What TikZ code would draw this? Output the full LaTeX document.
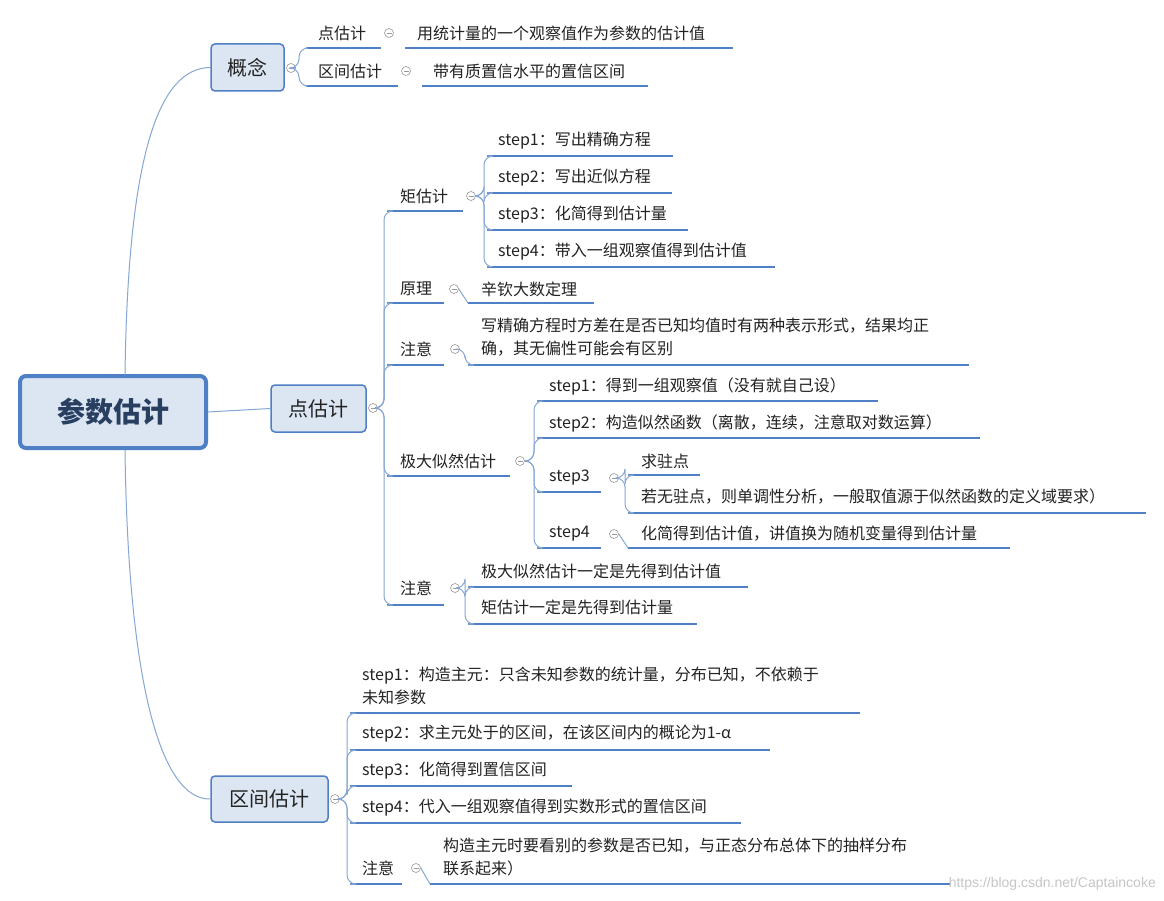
\documentclass[tikz,border=0pt]{standalone}
\usepackage{fontspec}
\setmainfont{Noto Sans CJK SC}
\newfontfamily\wm{Liberation Sans}
\definecolor{ul}{HTML}{4F7FC4}
\definecolor{cn}{HTML}{86A7D3}
\definecolor{bx}{HTML}{DCE6F2}
\definecolor{tx}{HTML}{222222}
\begin{document}
\begin{tikzpicture}[x=1pt,y=-1pt,
  conn/.style={draw=cn,line width=1pt,rounded corners=9},
  uline/.style={draw=ul,line width=2.6pt},
  tt/.style={anchor=west,inner sep=0pt,text=tx,font=\fontsize{16}{23}\selectfont,align=left},
  mbox/.style={draw=ul,fill=bx,rounded corners=4pt,line width=1.5pt,inner sep=0pt,text=tx,font=\fontsize{20}{24}\selectfont},
  circ/.style={circle,draw=gray!80,line width=0.6pt,minimum size=9pt,inner sep=0pt,path picture={\draw[gray!80,line width=0.6pt] ([xshift=-2.5pt]path picture bounding box.center)--([xshift=2.5pt]path picture bounding box.center);}}]
\useasboundingbox (0,0) rectangle (1164,901);
\fill[white] (0,0) rectangle (1164,901);
\newcommand\topic[7]{\node[tt] (#1) at (#2,#3) {#7};\draw[uline] (#4,#6)--(#5,#6);\coordinate (#1u) at (#4,#6);}
% root
\node[draw=ul,fill=bx,line width=4pt,rounded corners=6pt,minimum width=186pt,minimum height=72pt,text=ul!50!black,font=\fontsize{28}{32}\selectfont\bfseries] (root) at (113,412) {参数估计};
% level 1
\node[mbox,minimum width=73pt,minimum height=47pt] (gn) at (247.5,67.5) {概念};
\node[mbox,minimum width=95pt,minimum height=47pt] (dgj) at (318.5,408.5) {点估计};
\node[mbox,minimum width=117pt,minimum height=46pt] (qj) at (269.5,799) {区间估计};
\draw[conn] (125,375) .. controls (128,150) and (160,68) .. (gn.west);
\draw[conn] (root.east) -- (dgj.west);
\draw[conn] (125,450) .. controls (128,680) and (160,800) .. (qj.west);
\node[circ] (c0) at (291,68) {};
\node[circ] (c1) at (373,408) {};
\node[circ] (c2) at (335,799) {};
% 概念
\topic{a1}{318}{33}{306}{381}{48}{点估计}
\topic{a2}{318}{71}{306}{398}{86}{区间估计}
\draw[conn] (c0.east) -| (299,48) -- (a1u);
\draw[conn] (c0.east) -| (299,86) -- (a2u);
\node[circ] (ca1) at (389,33) {};
\node[circ] (ca2) at (406,71) {};
\topic{a1c}{417}{33}{405}{733}{48}{用统计量的一个观察值作为参数的估计值}
\topic{a2c}{433}{71}{422}{648}{86}{带有质置信水平的置信区间}
% 点估计
\topic{b1}{400}{196}{387}{463}{211}{矩估计}
\topic{b2}{400}{289}{387}{444}{303}{原理}
\topic{b3}{400}{349}{387}{444}{365}{注意}
\topic{b4}{400}{461}{387}{510}{476}{极大似然估计}
\topic{b5}{400}{588}{387}{444}{605}{注意}
\foreach \n in {b1u,b2u,b3u,b4u,b5u}{\draw[conn] (c1.east) -| ([xshift=-3pt]\n) -- (\n);}
\node[circ] (cb1) at (471,196) {};
\node[circ] (cb2) at (454,289) {};
\node[circ] (cb3) at (455,349) {};
\node[circ] (cb4) at (520,461) {};
\node[circ] (cb5) at (455,588) {};
% 矩估计
\topic{m1}{498}{141}{487}{673}{156}{step1：写出精确方程}
\topic{m2}{498}{178}{487}{672}{193}{step2：写出近似方程}
\topic{m3}{498}{215}{487}{688}{230}{step3：化简得到估计量}
\topic{m4}{498}{252}{487}{775}{267}{step4：带入一组观察值得到估计值}
\foreach \n in {m1u,m2u,m3u,m4u}{\draw[conn] (cb1.east) -| ([xshift=-3pt]\n) -- (\n);}
\topic{y1}{481}{289}{468}{594}{303}{辛钦大数定理}
\draw[conn] (cb2.east) -- (y1u);
\topic{z1}{481}{337.5}{468}{969}{365}{写精确方程时方差在是否已知均值时有两种表示形式，结果均正\\确，其无偏性可能会有区别}
\draw[conn] (cb3.east) -| ([xshift=-3pt]z1u) -- (z1u);
% 极大似然
\topic{j1}{549}{386}{537}{878}{401}{step1：得到一组观察值（没有就自己设）}
\topic{j2}{549}{423}{537}{980}{438}{step2：构造似然函数（离散，连续，注意取对数运算）}
\topic{j3}{549}{478}{537}{601}{492}{step3}
\topic{j4}{549}{534}{537}{601}{548}{step4}
\foreach \n in {j1u,j2u,j3u,j4u}{\draw[conn] (cb4.east) -| ([xshift=-3pt]\n) -- (\n);}
\node[circ] (cj3) at (614,478) {};
\node[circ] (cj4) at (614,534) {};
\topic{k1}{641}{461}{628}{700}{475}{求驻点}
\topic{k2}{641}{497}{628}{1146}{513}{若无驻点，则单调性分析，一般取值源于似然函数的定义域要求）}
\draw[conn] (cj3.east) -| ([xshift=-3pt]k1u) -- (k1u);
\draw[conn] (cj3.east) -| ([xshift=-3pt]k2u) -- (k2u);
\topic{k3}{641}{534}{628}{1010}{548}{化简得到估计值，讲值换为随机变量得到估计量}
\draw[conn] (cj4.east) -- (k3u);
% 注意2
\topic{n1}{481}{571}{468}{748}{587}{极大似然估计一定是先得到估计值}
\topic{n2}{481}{607}{468}{697}{624}{矩估计一定是先得到估计量}
\draw[conn] (cb5.east) -| ([xshift=-3pt]n1u) -- (n1u);
\draw[conn] (cb5.east) -| ([xshift=-3pt]n2u) -- (n2u);
% 区间估计
\topic{q1}{362}{685.5}{350}{860}{713}{step1：构造主元：只含未知参数的统计量，分布已知，不依赖于\\未知参数}
\topic{q2}{362}{734}{350}{770}{750}{step2：求主元处于的区间，在该区间内的概论为1-α}
\topic{q3}{362}{771}{350}{572}{786}{step3：化简得到置信区间}
\topic{q4}{362}{808}{350}{741}{823}{step4：代入一组观察值得到实数形式的置信区间}
\topic{q5}{362}{868}{350}{402}{884}{注意}
\foreach \n in {q1u,q2u,q3u,q4u,q5u}{\draw[conn] (c2.east) -| ([xshift=-3pt]\n) -- (\n);}
\node[circ] (cq5) at (416,868) {};
\topic{r1}{443}{856.5}{430}{950}{884}{构造主元时要看别的参数是否已知，与正态分布总体下的抽样分布\\联系起来）}
\draw[conn] (cq5.east) -- (r1u);
\node[anchor=east,inner sep=0pt,text=gray!45,font=\wm\fontsize{14}{16}\selectfont] (wmk) at (1156,884) {https://blog.csdn.net/Captaincoke};
\end{tikzpicture}
\end{document}
